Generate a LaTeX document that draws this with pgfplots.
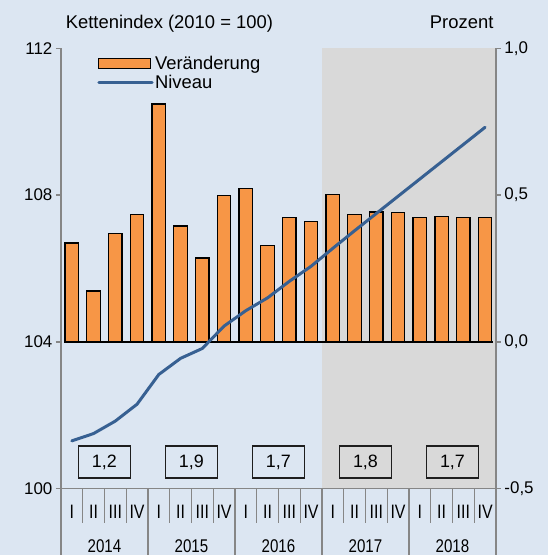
\documentclass[border=0pt]{standalone}
\usepackage{pgfplots}
\pgfplotsset{compat=1.18}
\usepackage{fontspec}
\setmainfont{Liberation Sans}
\newfontfamily\narrowfont[FakeStretch=0.82]{Liberation Sans}
\definecolor{bgcol}{RGB}{220,230,242}
\definecolor{shadecol}{RGB}{217,217,217}
\definecolor{barorange}{RGB}{247,150,70}
\definecolor{lineblue}{RGB}{55,96,146}
\definecolor{axgray}{RGB}{134,134,134}
\definecolor{boxcol}{RGB}{30,30,30}
\begin{document}
\begin{tikzpicture}[x=1bp,y=1bp]
\fill[bgcol] (0,0) rectangle (549,556);
\node[anchor=base west, inner sep=0, font=\fontsize{18.5}{22}\selectfont] at (65.7,527.7) {Kettenindex (2010 = 100)};
\node[anchor=base east, inner sep=0, font=\fontsize{18.5}{22}\selectfont] at (494.3,527.7) {Prozent};
% ---------- bars (right axis) ----------
\begin{axis}[
  at={(61bp,66.7bp)}, anchor=south west, scale only axis,
  width=435.7bp, height=440.8bp,
  xmin=-0.5, xmax=19.5, ymin=-0.5, ymax=1,
  axis y line*=right, axis x line*=bottom, axis on top,
  axis line style={draw=axgray, line width=1.3bp},
  ybar, bar width=13.5bp,
  ytick={-0.5,0,0.5,1}, yticklabels={{-0,5},{0,0},{0,5},{1,0}},
  tick align=outside, major tick length=5bp,
  ytick style={draw=axgray, line width=1.3bp},
  xtick={0,...,19},
  xticklabels={I,II,III,IV,I,II,III,IV,I,II,III,IV,I,II,III,IV,I,II,III,IV},
  xtick style={draw=none},
  xticklabel style={font=\narrowfont\fontsize{19.5}{22}\selectfont, anchor=center, yshift=-18bp},
  yticklabel style={font=\fontsize{17}{20}\selectfont},
]
\fill[shadecol] (axis cs:11.5,-0.5) rectangle (axis cs:19.5,1);
\addplot[fill=barorange, draw=black, line width=1.3bp] coordinates {
(0,0.337) (1,0.173) (2,0.369) (3,0.435)
(4,0.811) (5,0.395) (6,0.286) (7,0.499)
(8,0.522) (9,0.328) (10,0.423) (11,0.410)
(12,0.501) (13,0.433) (14,0.443) (15,0.441)
(16,0.424) (17,0.427) (18,0.424) (19,0.424)};
\draw[black, line width=1.5bp] (axis cs:-0.34,0) -- (axis cs:19.34,0);
\end{axis}
% ---------- line (left axis) ----------
\begin{axis}[
  at={(61bp,66.7bp)}, anchor=south west, scale only axis,
  width=435.7bp, height=440.8bp,
  xmin=-0.5, xmax=19.5, ymin=100, ymax=112,
  axis y line*=left, axis x line*=bottom,
  axis line style={draw=axgray, line width=1.3bp},
  ytick={100,104,108,112}, xtick=\empty,
  tick align=outside, major tick length=5bp,
  ytick style={draw=axgray, line width=1.3bp},
  yticklabel style={font=\fontsize{17}{20}\selectfont},
  /pgf/number format/assume math mode=true,
  clip=false,
  legend style={at={(rel axis cs:0.0833,0.985)}, anchor=north west, draw=none, fill=none,
    inner sep=0pt, row sep=2bp, font=\fontsize{18.5}{22}\selectfont,
    cells={anchor=west}, nodes={inner xsep=1.5bp, inner ysep=1bp}},
]
\pgfplotsinvokeforeach{0.5,1.5,2.5,4.5,5.5,6.5,8.5,9.5,10.5,12.5,13.5,14.5,16.5,17.5,18.5}{
  \draw[axgray, line width=1.3bp] (axis cs:#1,100) -- (axis cs:#1,99.074);
}
\pgfplotsinvokeforeach{-0.5,3.5,7.5,11.5,15.5,19.5}{
  \draw[axgray, line width=1.3bp] (axis cs:#1,100) -- (axis cs:#1,98.184);
}
\node[font=\narrowfont\fontsize{18.5}{22}\selectfont] at (axis cs:1.5,98.43) {2014};
\node[font=\narrowfont\fontsize{18.5}{22}\selectfont] at (axis cs:5.5,98.43) {2015};
\node[font=\narrowfont\fontsize{18.5}{22}\selectfont] at (axis cs:9.5,98.43) {2016};
\node[font=\narrowfont\fontsize{18.5}{22}\selectfont] at (axis cs:13.5,98.43) {2017};
\node[font=\narrowfont\fontsize{18.5}{22}\selectfont] at (axis cs:17.5,98.43) {2018};
\node[draw=boxcol, line width=1.2bp, minimum width=51.5bp, minimum height=32bp, inner sep=0pt, font=\fontsize{18}{20}\selectfont] at (axis cs:1.5,100.724) {1,2};
\node[draw=boxcol, line width=1.2bp, minimum width=51.5bp, minimum height=32bp, inner sep=0pt, font=\fontsize{18}{20}\selectfont] at (axis cs:5.5,100.724) {1,9};
\node[draw=boxcol, line width=1.2bp, minimum width=51.5bp, minimum height=32bp, inner sep=0pt, font=\fontsize{18}{20}\selectfont] at (axis cs:9.5,100.724) {1,7};
\node[draw=boxcol, line width=1.2bp, minimum width=51.5bp, minimum height=32bp, inner sep=0pt, font=\fontsize{18}{20}\selectfont] at (axis cs:13.5,100.724) {1,8};
\node[draw=boxcol, line width=1.2bp, minimum width=51.5bp, minimum height=32bp, inner sep=0pt, font=\fontsize{18}{20}\selectfont] at (axis cs:17.5,100.724) {1,7};
\addlegendimage{legend image code/.code={\draw[fill=barorange,draw=black,line width=1.3bp] (0bp,-5bp) rectangle (51.7bp,5bp);}}
\addlegendentry{Veränderung}
\addplot[lineblue, line width=3bp, line join=round, line cap=round,
  legend image code/.code={\draw[lineblue,line width=3bp] (0bp,0bp) -- (53.3bp,0bp);}] coordinates {
(0,101.30) (1,101.50) (2,101.84) (3,102.30)
(4,103.11) (5,103.55) (6,103.82) (7,104.43)
(8,104.85) (9,105.20) (10,105.65) (11,106.06)
(12,106.55) (13,107.03) (14,107.50) (15,107.97)
(16,108.44) (17,108.91) (18,109.38) (19,109.85)};
\addlegendentry{Niveau}
\end{axis}
\end{tikzpicture}
\end{document}
